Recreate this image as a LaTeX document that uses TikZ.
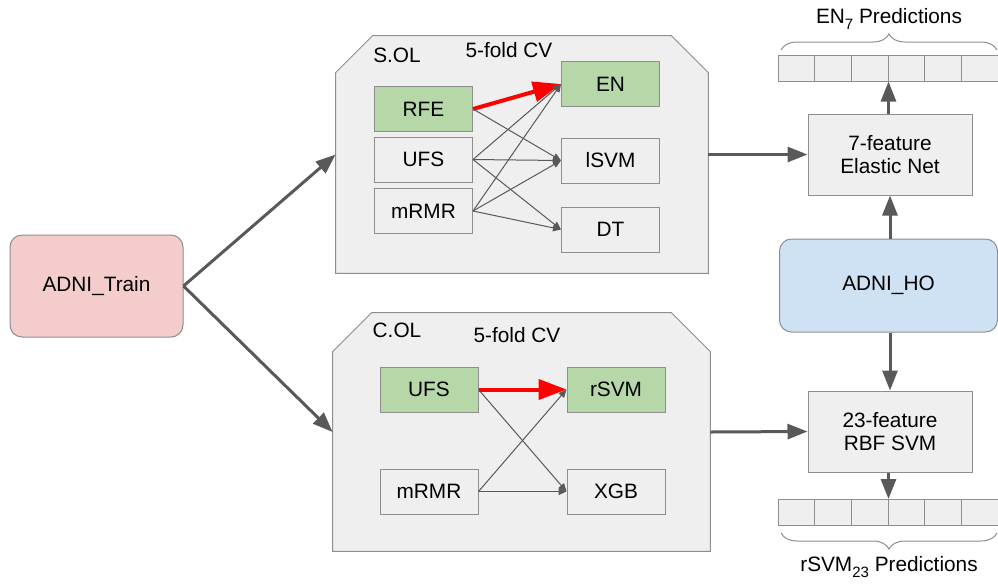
\documentclass[tikz,border=0pt]{standalone}
\usepackage{fontspec}
\setmainfont{Liberation Sans}
\usetikzlibrary{arrows.meta,calc,decorations.pathreplacing}
\definecolor{boxgray}{HTML}{EFEFEF}
\definecolor{edgegray}{HTML}{8E8E8E}
\definecolor{arrgray}{HTML}{595959}
\definecolor{pickgreen}{HTML}{B6D7A8}
\definecolor{trainpink}{HTML}{F4CCCC}
\definecolor{hoblue}{HTML}{CFE2F3}
\newcommand{\lowsub}[1]{\raisebox{-0.55ex}{\fontsize{7.5}{8}\selectfont #1}}
\tikzset{
  base/.style={draw=edgegray,line width=0.5pt,fill=boxgray,inner sep=0pt,
    minimum width=49pt,minimum height=22.5pt},
  picked/.style={base,fill=pickgreen},
  bigbox/.style={base,minimum width=82pt,minimum height=40.5pt,align=center},
  cell/.style={base,minimum width=18.33pt,minimum height=13pt},
  panel/.style={draw=edgegray,line width=0.5pt,fill=boxgray},
  bigarrow/.style={draw=arrgray,line width=1.5pt,-{Triangle[length=10pt,width=7.5pt]}},
  thinarrow/.style={draw=arrgray,line width=0.5pt,-{Triangle[length=4pt,width=3.5pt]}},
  bestarrow/.style={draw=red,line width=2pt,-{Triangle[length=14pt,width=10pt]}},
  brace/.style={draw=edgegray,line width=0.5pt,decorate,decoration={brace,amplitude=8pt}}
}
\begin{document}
\begin{tikzpicture}[x=0.5pt,y=-0.5pt,font=\fontsize{10.4}{11.2}\selectfont]
  \useasboundingbox (0,0) rectangle (998,586);
  % training data
  \node[base,fill=trainpink,rounded corners=6pt,minimum width=86.5pt,minimum height=51pt] (train) at (96.5,286) {ADNI\_Train};
  % S.OL panel
  \node[minimum width=186pt,minimum height=118.5pt,inner sep=0pt] (sol) at (522,154.5) {};
  \draw[panel] ($(sol.north west)+(0,37)$) -- ($(sol.north west)+(37,0)$) -- ($(sol.north east)+(-37,0)$)
    -- ($(sol.north east)+(0,37)$) -- (sol.south east) -- (sol.south west) -- cycle;
  \node (soltag) at (397,55) {S.OL};
  \node (solcv) at (509,50) {5-fold CV};
  \node[picked] (rfe) at (423.5,109) {RFE};
  \node[base] (ufs) at (423.5,159.5) {UFS};
  \node[base] (mrmr) at (423.5,211) {mRMR};
  \node[picked] (en) at (610.5,84) {EN};
  \node[base] (lsvm) at (610.5,160.5) {lSVM};
  \node[base] (dt) at (610.5,229.5) {DT};
  \draw[bestarrow] (rfe.east) -- (en.west);
  \draw[thinarrow] (rfe.east) -- (lsvm.west);
  \foreach \src in {ufs,mrmr}
    \foreach \dst in {en,lsvm,dt}
      \draw[thinarrow] (\src.east) -- (\dst.west);
  % C.OL panel
  \node[minimum width=188.5pt,minimum height=119pt,inner sep=0pt] (col) at (521.5,432) {};
  \draw[panel] ($(col.north west)+(0,39)$) -- ($(col.north west)+(39,0)$) -- ($(col.north east)+(-39,0)$)
    -- ($(col.north east)+(0,39)$) -- (col.south east) -- (col.south west) -- cycle;
  \node (coltag) at (397,330) {C.OL};
  \node (colcv) at (517,335) {5-fold CV};
  \node[picked] (cufs) at (429,389.5) {UFS};
  \node[base] (cmrmr) at (429,491.5) {mRMR};
  \node[picked] (rsvm) at (616,389.5) {rSVM};
  \node[base] (xgb) at (616,491.5) {XGB};
  \draw[bestarrow] (cufs.east) -- (rsvm.west);
  \draw[thinarrow] (cufs.east) -- (xgb.west);
  \draw[thinarrow] (cmrmr.east) -- (rsvm.west);
  \draw[thinarrow] (cmrmr.east) -- (xgb.west);
  % final models and hold-out set
  \node[bigbox] (enet) at (890,154.5) {7-feature\\Elastic Net};
  \node[bigbox] (rbf) at (890,431.5) {23-feature\\RBF SVM};
  \node[base,fill=hoblue,rounded corners=6pt,minimum width=109pt,minimum height=46.5pt] (ho) at (888.5,285.5) {ADNI\_HO};
  \draw[bigarrow] (train.east) -- (sol.west);
  \draw[bigarrow] (train.east) -- (col.west);
  \draw[bigarrow] (sol.east) -- (enet.west);
  \draw[bigarrow] (col.east) -- (rbf.west);
  \draw[bigarrow] (ho.north -| enet.south) -- (enet.south);
  \draw[bigarrow] (ho.south -| rbf.north) -- (rbf.north);
  % prediction strips
  \foreach \i in {1,...,6} {
    \node[cell] (top\i) at ({778+36.67*(\i-0.5)},68) {};
    \node[cell] (bot\i) at ({778+36.67*(\i-0.5)},512.5) {};
  }
  \draw[bigarrow] (enet.north -| top3.south east) -- (top3.south east);
  \draw[bigarrow] (rbf.south -| bot3.north east) -- (bot3.north east);
  \draw[brace] (781,50) -- (997,50);
  \draw[brace] (997,533) -- (781,533);
  \node (toplabel) at (889,19) {EN\lowsub{7} Predictions};
  \node (botlabel) at (889,567) {rSVM\lowsub{23} Predictions};
\end{tikzpicture}
\end{document}
